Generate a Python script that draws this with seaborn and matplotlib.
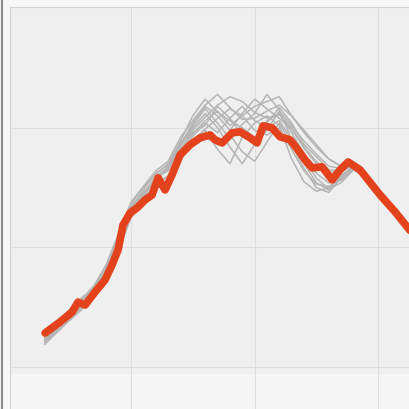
import numpy as np
import pandas as pd
import seaborn as sns
from matplotlib import pyplot as plt
from matplotlib.lines import Line2D

# main (highlighted) series
red_x = [3.04, 4.25, 5.22, 5.71, 6.28, 7.09, 7.89, 8.46, 8.95, 9.35, 9.92, 10.49, 11.13, 11.70,
         12.19, 12.75, 13.32, 13.97, 14.78, 15.59, 16.40, 16.80, 17.37, 18.18, 18.83, 19.64,
         20.20, 20.69, 21.42, 22.06, 22.87, 23.52, 24.09, 24.66, 25.46, 26.28, 26.92, 27.57,
         28.54, 30.16, 31.38, 32.60]
red_y = [12.85, 13.77, 14.60, 15.44, 15.19, 16.28, 17.28, 18.54, 19.79, 21.88, 22.89, 23.31,
         23.97, 24.39, 25.82, 24.81, 26.07, 27.74, 28.58, 29.16, 29.41, 29.00, 28.74, 29.58,
         29.67, 29.16, 28.74, 30.17, 30.00, 29.25, 29.00, 28.16, 27.32, 26.65, 26.74, 25.65,
         26.49, 27.15, 26.49, 24.39, 22.97, 21.40]

# background series
gray_x = list(range(3, 34))
g1 = [12.4, 13.3, 14.2, 15.2, 16.3, 17.9, 20.6, 23.1, 24.3, 25.9, 26.4, 28.2, 29.5, 30.6, 31.4, 30.2,
      31.0, 31.8, 32.2, 32.6, 31.0, 29.6, 28.4, 27.4, 26.8, 26.9, 25.9, 24.6, 23.4, 22.2, 21.0]
g2 = [13.1, 13.9, 14.7, 15.8, 16.6, 18.3, 20.9, 23.4, 24.6, 25.6, 26.8, 28.6, 30.2, 31.6, 30.4, 29.1,
      30.3, 31.2, 32.8, 31.5, 29.0, 27.0, 25.4, 24.8, 26.0, 26.8, 25.8, 24.5, 23.3, 22.1, 21.0]
g3 = [11.9, 12.9, 13.9, 14.9, 16.0, 17.6, 20.2, 22.7, 23.9, 25.4, 25.9, 27.6, 29.0, 29.8, 28.2, 27.0,
      29.2, 30.4, 31.0, 30.2, 27.4, 25.5, 24.7, 25.0, 25.9, 26.7, 25.9, 24.5, 23.4, 22.2, 21.1]
g4 = [12.7, 13.6, 14.5, 15.5, 16.5, 18.1, 20.3, 23.3, 24.8, 26.2, 26.9, 28.9, 31.0, 32.4, 31.3, 30.6,
      30.0, 29.2, 30.4, 31.7, 30.4, 28.6, 27.6, 26.5, 26.4, 26.9, 26.0, 24.6, 23.5, 22.3, 21.1]
g5 = [12.2, 13.1, 14.0, 15.0, 16.1, 17.5, 19.9, 22.6, 23.7, 25.0, 25.6, 27.3, 28.6, 29.2, 28.6, 29.4,
      28.0, 27.2, 28.8, 30.4, 28.6, 26.6, 25.0, 24.6, 25.8, 26.7, 25.8, 24.4, 23.3, 22.1, 20.9]
g6 = [12.9, 13.8, 14.8, 15.7, 16.8, 18.6, 21.2, 23.8, 25.1, 26.4, 27.2, 29.2, 30.6, 31.9, 32.8, 31.7,
      30.7, 30.8, 31.4, 31.9, 31.0, 29.8, 28.6, 27.4, 26.8, 27.0, 26.0, 24.6, 23.5, 22.3, 21.1]
g7 = [12.0, 13.0, 13.9, 14.8, 15.9, 17.3, 19.8, 22.5, 23.6, 24.9, 25.5, 27.5, 28.9, 29.9, 30.8, 31.6,
      31.0, 29.8, 29.4, 30.0, 28.2, 26.4, 25.3, 25.1, 25.7, 26.6, 25.8, 24.5, 23.3, 22.2, 21.0]
g8 = [12.6, 13.5, 14.4, 15.4, 16.4, 17.9, 20.7, 23.0, 24.2, 25.7, 26.5, 28.0, 29.8, 30.9, 31.9, 32.6,
      32.2, 31.3, 30.8, 31.1, 30.0, 28.4, 27.2, 26.3, 26.3, 26.9, 25.9, 24.6, 23.4, 22.2, 21.0]
g9 = [12.3, 13.2, 14.1, 15.1, 16.2, 17.7, 20.4, 23.0, 24.4, 25.8, 26.6, 28.4, 30.0, 31.2, 30.0, 28.4,
      27.0, 28.6, 30.6, 31.2, 29.6, 27.8, 26.2, 25.4, 25.6, 26.6, 25.8, 24.5, 23.4, 22.2, 21.0]
g10 = [12.8, 13.7, 14.6, 15.6, 16.7, 18.4, 21.0, 23.6, 25.0, 26.1, 27.0, 28.8, 29.6, 30.2, 31.8, 30.8,
       29.4, 28.6, 29.8, 31.4, 30.2, 28.9, 27.8, 26.8, 26.6, 26.9, 26.0, 24.6, 23.5, 22.3, 21.1]
g11 = [12.1, 13.0, 14.0, 15.0, 16.0, 17.4, 20.0, 22.8, 24.0, 25.3, 26.0, 27.8, 29.3, 30.4, 29.6, 30.8,
       31.8, 30.6, 30.0, 30.6, 29.0, 27.4, 25.8, 24.9, 25.4, 26.5, 25.8, 24.5, 23.3, 22.2, 21.0]
g12 = [12.5, 13.4, 14.3, 15.3, 16.4, 18.0, 20.8, 23.2, 24.5, 25.9, 26.7, 28.6, 30.4, 31.8, 31.0, 29.8,
       31.2, 32.4, 31.6, 30.8, 29.9, 28.3, 27.0, 25.8, 25.9, 26.8, 25.9, 24.6, 23.4, 22.2, 21.0]
grays = [g1, g2, g3, g4, g5, g6, g7, g8, g9, g10, g11, g12]

sns.set_style("whitegrid", {"axes.facecolor": "#efefef", "grid.color": "#dedede",
                            "axes.edgecolor": "#d2d2d2"})

fig = plt.figure(figsize=(4.09, 4.09), dpi=100)
fig.patch.set_facecolor("#f8f8f8")
ax = fig.add_axes([10 / 409, 0, 399 / 409, 402 / 409])

rows = []
for i, g in enumerate(grays):
    for x, y in zip(gray_x, g):
        rows.append({"x": x, "y": y, "run": f"r{i}"})
df = pd.DataFrame(rows)
sns.lineplot(data=df, x="x", y="y", units="run", estimator=None, color="#b5b5b5",
             linewidth=1.1, ax=ax, legend=False)
sns.lineplot(x=red_x, y=red_y, color="#e4421c", linewidth=5.5, ax=ax, sort=False)

# faded lower strip of the scan
ax.axhspan(6.5, 9.4, color="white", alpha=0.4, lw=0, zorder=0.5)

ax.set_xlim(0.2, 32.5)
ax.set_ylim(6.5, 40.1)
ax.set_xticks([10, 20, 30])
ax.set_yticks([10, 20, 30])
ax.set_xticklabels([])
ax.set_yticklabels([])
ax.set_xlabel("")
ax.set_ylabel("")
ax.tick_params(length=0)
for s in ["right", "bottom"]:
    ax.spines[s].set_visible(False)

# dark edge at the left of the scan
fig.add_artist(Line2D([0.004, 0.004], [0, 1], color="#8a8a8a", lw=1.5))

fig.savefig("out.png", dpi=100)
